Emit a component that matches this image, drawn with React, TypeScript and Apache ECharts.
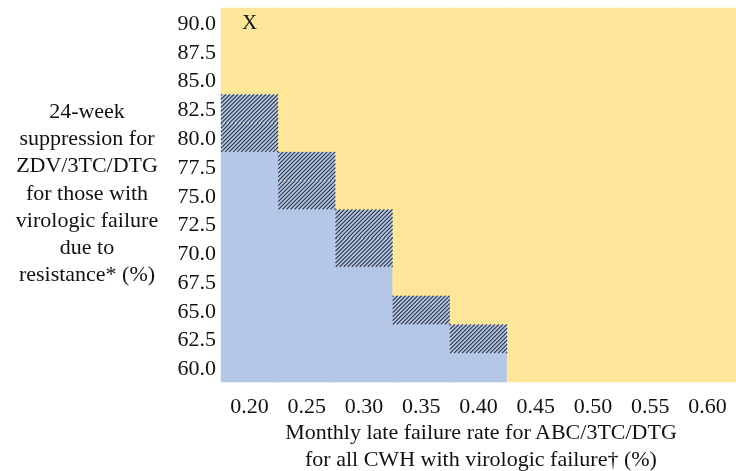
import React, { useEffect, useRef } from "react";
import * as echarts from "echarts";

const xLabels = ["0.20", "0.25", "0.30", "0.35", "0.40", "0.45", "0.50", "0.55", "0.60"];
const yLabels = ["60.0", "62.5", "65.0", "67.5", "70.0", "72.5", "75.0", "77.5", "80.0", "82.5", "85.0", "87.5", "90.0"];
// per x column: number of rows (from 60.0 upward) where ZDV/3TC/DTG preferred (blue)
const blueRows = [8, 6, 4, 2, 1, 0, 0, 0, 0];
// per x column: number of following rows that are uncertain (hatched)
const hatchedRows = [2, 2, 2, 1, 1, 0, 0, 0, 0];
const markCell = ["0.20", "90.0"];
const markText = "X";

const yTitle = ["24-week", "suppression for", "ZDV/3TC/DTG", "for those with", "virologic failure", "due to", "resistance* (%)"];
const xTitle = ["Monthly late failure rate for ABC/3TC/DTG", "for all CWH with virologic failure\u2020 (%)"];

const BLUE = "#B4C7E7";
const YELLOW = "#FFE699";
const FONT = "Liberation Serif";

export default function App() {
  const ref = useRef<HTMLDivElement>(null);
  useEffect(() => {
    if (!ref.current) return;
    const chart = echarts.init(ref.current, null, { renderer: "svg" });
    const cells: any[] = [];
    const hatched: any[] = [];
    xLabels.forEach((xl, xi) => {
      yLabels.forEach((yl, yi) => {
        let code = 2;
        if (yi < blueRows[xi]) code = 0;
        else if (yi < blueRows[xi] + hatchedRows[xi]) code = 1;
        cells.push([xi, yi, code]);
        if (code === 1) hatched.push([xi, yi]);
      });
    });
    const mx = xLabels.indexOf(markCell[0]);
    const my = yLabels.indexOf(markCell[1]);

    chart.setOption({
      animation: false,
      grid: { left: 221, top: 8, right: 0, bottom: 89 },
      visualMap: {
        show: false,
        type: "piecewise",
        dimension: 2,
        seriesIndex: 0,
        pieces: [
          { value: 0, color: BLUE },
          { value: 1, color: BLUE },
          { value: 2, color: YELLOW },
        ],
      },
      xAxis: {
        type: "category",
        data: xLabels,
        axisLine: { show: false },
        axisTick: { show: false },
        splitLine: { show: false },
        axisLabel: { fontFamily: FONT, fontSize: 22, color: "#111", margin: 12 },
      },
      yAxis: {
        type: "category",
        data: yLabels,
        axisLine: { show: false },
        axisTick: { show: false },
        splitLine: { show: false },
        axisLabel: { fontFamily: FONT, fontSize: 22, color: "#111", margin: 5 },
      },
      series: [
        {
          type: "heatmap",
          data: cells,
          itemStyle: { borderWidth: 0 },
          emphasis: { disabled: true },
          label: {
            show: true,
            fontFamily: FONT,
            fontSize: 21,
            color: "#111",
            formatter: (p: any) => (p.value[0] === mx && p.value[1] === my ? markText : ""),
          },
        },
        {
          type: "custom",
          data: hatched,
          silent: true,
          renderItem: (params: any, api: any) => {
            const c = api.coord([api.value(0), api.value(1)]);
            const s = api.size([1, 1]);
            const x0 = c[0] - s[0] / 2;
            const x1 = c[0] + s[0] / 2;
            const y0 = c[1] - s[1] / 2;
            const y1 = c[1] + s[1] / 2;
            const children: any[] = [];
            const step = 4;
            for (let k = x0 + y0 + 1; k < x1 + y1; k += step) {
              const sx = Math.max(x0, k - y1);
              const ex = Math.min(x1, k - y0);
              if (ex - sx < 0.5) continue;
              children.push({
                type: "line",
                shape: { x1: sx, y1: k - sx, x2: ex, y2: k - ex },
                style: { stroke: "#2a2f3b", lineWidth: 1.05 },
              });
            }
            return { type: "group", children };
          },
        },
      ],
      graphic: [
        {
          type: "text",
          x: 87,
          y: 192,
          style: {
            text: yTitle.join("\n"),
            fontFamily: FONT,
            fontSize: 22,
            lineHeight: 27.2,
            fill: "#111",
            align: "center",
            verticalAlign: "middle",
          },
        },
        {
          type: "text",
          x: 481,
          y: 445,
          style: {
            text: xTitle.join("\n"),
            fontFamily: FONT,
            fontSize: 22,
            lineHeight: 27,
            fill: "#111",
            align: "center",
            verticalAlign: "middle",
          },
        },
      ],
    });
    return () => chart.dispose();
  }, []);
  return <div ref={ref} style={{ position: "fixed", left: 0, top: 0, width: 736, height: 471 }} />;
}
